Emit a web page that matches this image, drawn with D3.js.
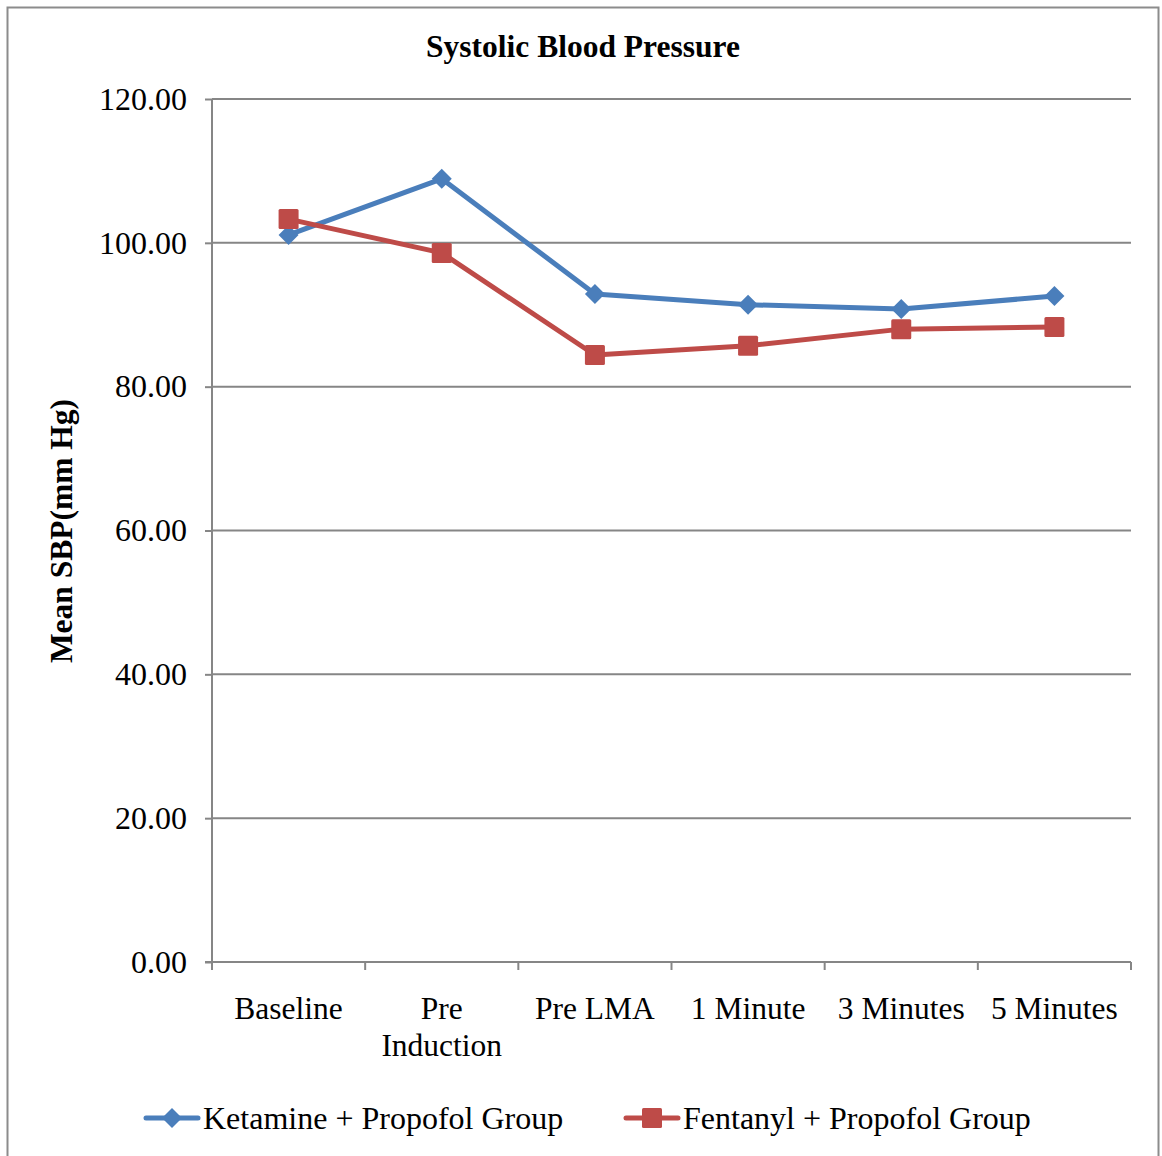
<!DOCTYPE html>
<html><head><meta charset="utf-8">
<script src="https://cdn.jsdelivr.net/npm/d3@7"></script>
<style>body{margin:0;background:#fff;} svg{display:block;font-family:"Liberation Serif","Times New Roman",serif;}</style>
</head><body>
<script>
const categories = [["Baseline"], ["Pre", "Induction"], ["Pre LMA"], ["1 Minute"], ["3 Minutes"], ["5 Minutes"]];
const ketamine = [101.1, 108.9, 92.9, 91.4, 90.8, 92.6];
const fentanyl = [103.3, 98.6, 84.4, 85.7, 88.0, 88.3];
const yTicks = [0, 20, 40, 60, 80, 100, 120];
const seriesNames = ["Ketamine + Propofol Group", "Fentanyl + Propofol Group"];

const W = 1162, H = 1156;
const svg = d3.select("body").append("svg").attr("width", W).attr("height", H);
svg.append("rect").attr("x", 7.5).attr("y", 7.5).attr("width", 1151).attr("height", 1160)
  .attr("fill", "#fff").attr("stroke", "#8c8c8c").attr("stroke-width", 2);

const L = 212, R = 1131, T = 99, B = 962;
const x = d3.scaleBand().domain(d3.range(categories.length)).range([L, R]);
const y = d3.scaleLinear().domain([0, 120]).range([B, T]);
const grid = "#868686";
const FS = 32;

// gridlines
svg.append("g").selectAll("line").data(yTicks.filter(d => d > 0)).join("line")
  .attr("x1", L).attr("x2", R).attr("y1", d => y(d)).attr("y2", d => y(d))
  .attr("stroke", grid).attr("stroke-width", 2);

// y axis
const ya = svg.append("g").attr("transform", `translate(${L},0)`)
  .call(d3.axisLeft(y).tickValues(yTicks).tickFormat(d3.format(".2f")).tickSize(7).tickPadding(18));
ya.select(".domain").attr("stroke", grid).attr("stroke-width", 2).attr("d", `M0,${T}V${B}`);
ya.selectAll(".tick line").attr("stroke", grid).attr("stroke-width", 2);
ya.selectAll(".tick text").attr("font-size", FS).attr("fill", "#000").attr("font-family", "Liberation Serif");

// x axis
const xa = svg.append("g").attr("transform", `translate(0,${B})`);
xa.append("line").attr("x1", L - 7).attr("x2", R).attr("y1", 0).attr("y2", 0).attr("stroke", grid).attr("stroke-width", 2);
const bounds = d3.range(categories.length + 1).map(i => L + i * x.step());
xa.selectAll("line.tk").data(bounds).join("line").attr("class", "tk")
  .attr("x1", d => d).attr("x2", d => d).attr("y1", 0).attr("y2", 8)
  .attr("stroke", grid).attr("stroke-width", 2);
const xl = xa.selectAll("text").data(categories).join("text")
  .attr("text-anchor", "middle").attr("font-size", 31.5).attr("fill", "#000");
xl.each(function(d, i) {
  const t = d3.select(this);
  d.forEach((line, j) => t.append("tspan").attr("x", x(i) + x.bandwidth() / 2).attr("y", 57 + j * 37).text(line));
});

// title
svg.append("text").attr("x", 583).attr("y", 57).attr("text-anchor", "middle")
  .attr("font-size", 31.5).attr("font-weight", "bold").text("Systolic Blood Pressure");
// y title
svg.append("text").attr("transform", "translate(72,531) rotate(-90)").attr("text-anchor", "middle")
  .attr("font-size", 31.5).attr("font-weight", "bold").text("Mean SBP(mm Hg)");

const colors = ["#4A7EBB", "#BE4B48"];
const cx = i => x(i) + x.bandwidth() / 2;
const line = d3.line().x((d, i) => cx(i)).y(d => y(d));
[ketamine, fentanyl].forEach((data, s) => {
  svg.append("path").datum(data).attr("d", line).attr("fill", "none")
    .attr("stroke", colors[s]).attr("stroke-width", 5).attr("stroke-linejoin", "round");
});
svg.append("g").selectAll("path").data(ketamine).join("path")
  .attr("transform", (d, i) => `translate(${cx(i)},${y(d)}) rotate(45)`)
  .attr("d", d3.symbol().type(d3.symbolSquare).size(200)).attr("fill", colors[0]);
svg.append("g").selectAll("rect").data(fentanyl).join("rect")
  .attr("x", (d, i) => cx(i) - 10).attr("y", d => y(d) - 10).attr("width", 20).attr("height", 20)
  .attr("rx", 1.5).attr("fill", colors[1]);

// legend
const leg = [{x: 143, tx: 203}, {x: 623, tx: 683}];
seriesNames.forEach((n, s) => {
  const g = svg.append("g");
  g.append("line").attr("x1", leg[s].x + 3).attr("x2", leg[s].x + 55).attr("y1", 1118).attr("y2", 1118)
    .attr("stroke", colors[s]).attr("stroke-width", 5).attr("stroke-linecap", "round");
  if (s === 0) {
    g.append("path").attr("transform", `translate(${leg[s].x + 29},1118) rotate(45)`)
      .attr("d", d3.symbol().type(d3.symbolSquare).size(200)).attr("fill", colors[s]);
  } else {
    g.append("rect").attr("x", leg[s].x + 19).attr("y", 1108).attr("width", 20).attr("height", 20)
      .attr("rx", 1.5).attr("fill", colors[s]);
  }
  g.append("text").attr("x", leg[s].tx).attr("y", 1129).attr("font-size", FS).attr("fill", "#000").text(n);
});
</script>
</body></html>
